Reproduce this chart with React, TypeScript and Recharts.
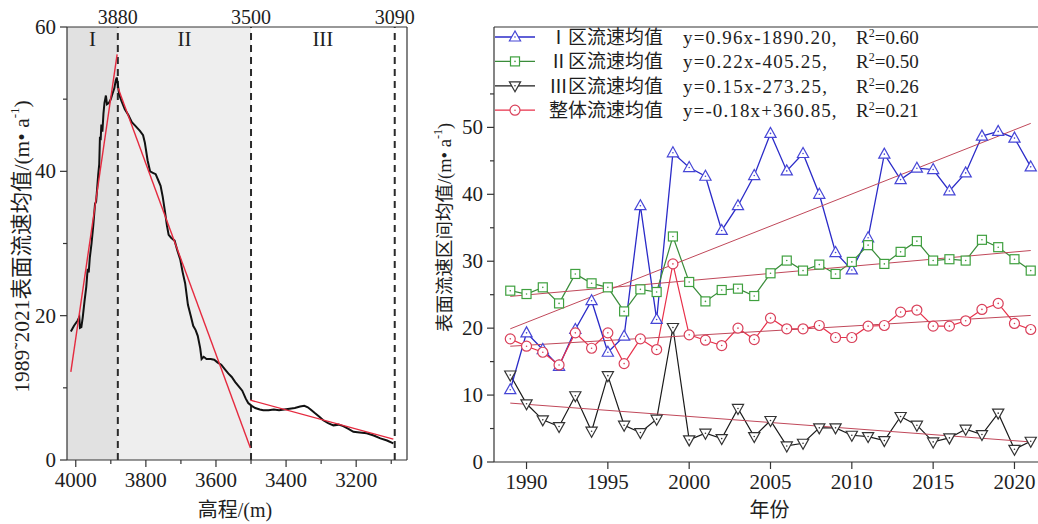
import React from 'react';
import {
  ComposedChart,
  Line,
  XAxis,
  YAxis,
  ReferenceArea,
  ReferenceLine,
  Legend,
} from 'recharts';

// ---------- left panel: velocity along the elevation profile ----------
const profileElevation = [
  4014, 4005, 3995, 3990, 3988, 3984, 3980, 3975, 3970, 3966, 3963, 3960, 3955, 3950, 3945, 3942,
  3940, 3936, 3933, 3931, 3929, 3927, 3924, 3921, 3918, 3914, 3911, 3905, 3900, 3895, 3890, 3886,
  3883, 3880, 3876, 3870, 3860, 3850, 3840, 3830, 3817, 3808, 3803, 3795, 3788, 3780, 3772, 3765,
  3758, 3752, 3746, 3740, 3735, 3728, 3718, 3710, 3702, 3695, 3688, 3680, 3672, 3665, 3658, 3652,
  3645, 3641, 3635, 3627, 3615, 3605, 3595, 3585, 3575, 3565, 3555, 3545, 3535, 3525, 3515, 3508,
  3498, 3488, 3475, 3465, 3450, 3435, 3420, 3405, 3390, 3375, 3360, 3348, 3338, 3330, 3318, 3305,
  3294, 3280, 3265, 3250, 3237, 3222, 3208, 3190, 3170, 3150, 3131, 3112, 3094,
];
const profileVelocity = [
  17.8, 18.6, 19.3, 19.8, 18.3, 18.4, 19.8, 22.0, 24.0, 26.5, 26.0, 28.0, 30.0, 32.5, 35.5, 35.8,
  37.0, 39.5, 41.0, 44.8, 44.3, 46.5, 45.5, 48.0, 49.5, 50.5, 49.3, 49.5, 50.0, 50.8, 51.5, 52.6,
  53.0, 52.0, 50.6, 49.8, 48.6, 47.8, 46.8, 46.3, 45.6, 45.0, 44.0, 41.5, 40.0, 39.8, 39.6, 38.8,
  38.0, 36.5, 34.6, 32.5, 31.2, 30.8, 30.4, 29.0, 27.8, 26.0, 24.5, 21.5, 20.0, 18.6, 18.0, 17.2,
  15.5, 14.0, 14.3, 14.0, 14.0, 13.9, 13.5, 13.2, 12.6, 12.0, 11.5, 10.8, 10.2, 9.6, 8.5, 7.9,
  7.5, 7.2, 7.0, 6.9, 6.9, 7.0, 6.9, 7.0, 7.1, 7.2, 7.4, 7.5, 7.3, 7.0, 6.5, 6.0,
  5.5, 5.1, 4.8, 4.9, 4.7, 4.3, 3.9, 3.8, 3.7, 3.4, 3.0, 2.7, 2.3,
];

// fitted segments per zone (endpoints)
const trendZoneIElev = [4014, 3882];
const trendZoneIVel = [12.2, 56.2];
const trendZoneIIElev = [3879, 3502];
const trendZoneIIVel = [51.5, 1.7];
const trendZoneIIIElev = [3502, 3094];
const trendZoneIIIVel = [8.3, 2.9];

const zoneBounds = [4025, 3880, 3500, 3090];
const zoneNames = ['I', 'II', 'III'];
const profileTopTicks = [3880, 3500, 3090];
const profileXTicks = [4000, 3900, 3800, 3700, 3600, 3500, 3400, 3300, 3200, 3100];
const profileXMajor = [4000, 3800, 3600, 3400, 3200];
const profileYTicks = [0, 10, 20, 30, 40, 50, 60];
const profileYMajor = [0, 20, 40, 60];

// ---------- right panel: yearly mean velocity per zone ----------
const years = [
  1989, 1990, 1991, 1992, 1993, 1994, 1995, 1996, 1997, 1998, 1999, 2000, 2001, 2002, 2003, 2004,
  2005, 2006, 2007, 2008, 2009, 2010, 2011, 2012, 2013, 2014, 2015, 2016, 2017, 2018, 2019, 2020, 2021,
];
const zoneIMean = [
  10.8, 19.3, 16.8, 14.3, 19.8, 24.1, 16.4, 18.8, 38.3, 21.3, 46.2, 44.0, 42.7, 34.6, 38.3, 42.8,
  49.1, 43.5, 46.1, 40.0, 31.3, 28.7, 33.5, 46.0, 42.2, 43.9, 43.7, 40.5, 43.2, 48.7, 49.4, 48.4, 44.1,
];
const zoneIIMean = [
  25.6, 25.1, 26.1, 23.7, 28.1, 26.7, 26.1, 22.5, 25.8, 25.4, 33.7, 26.9, 24.0, 25.7, 25.9, 24.8,
  28.2, 30.1, 28.6, 29.5, 28.1, 29.9, 32.4, 29.6, 31.4, 33.0, 30.1, 30.3, 30.1, 33.2, 32.1, 30.3, 28.6,
];
const zoneIIIMean = [
  13.0, 8.7, 6.3, 5.3, 9.9, 4.6, 12.9, 5.5, 4.4, 6.4, 20.1, 3.3, 4.3, 3.5, 8.0, 3.8,
  6.2, 2.4, 2.8, 5.1, 5.1, 4.0, 3.8, 3.2, 6.8, 5.5, 3.0, 3.6, 4.9, 4.1, 7.3, 1.9, 3.1,
];
const overallMean = [
  18.4, 17.3, 16.4, 14.5, 19.3, 17.0, 19.3, 14.7, 18.4, 16.8, 29.6, 19.0, 18.2, 17.4, 20.0, 18.3,
  21.5, 19.9, 19.9, 20.4, 18.6, 18.6, 20.3, 20.4, 22.4, 22.7, 20.3, 20.3, 21.1, 22.8, 23.7, 20.7, 19.8,
];

const trendYears = [1989, 2021];
const trendZoneI = [19.9, 50.6];
const trendZoneII = [24.75, 31.6];
const trendZoneIII = [8.8, 3.0];
const trendOverall = [17.3, 21.9];

const legendNames = ['Ⅰ区流速均值', 'Ⅱ区流速均值', 'Ⅲ区流速均值', '整体流速均值'];
const legendEquations = ['y=0.96x-1890.20,', 'y=0.22x-405.25,', 'y=0.15x-273.25,', 'y=-0.18x+360.85,'];
const legendR2 = ['0.60', '0.50', '0.26', '0.21'];

const yearXTicks = [1990, 1995, 2000, 2005, 2010, 2015, 2020];
const yearYTicks = [0, 5, 10, 15, 20, 25, 30, 35, 40, 45, 50, 55];
const yearYMajor = [0, 10, 20, 30, 40, 50];

// ---------- tables ----------
const profileRows = profileElevation.map((e, i) => ({ elev: e, v: profileVelocity[i] }));
const segRows = (el: number[], vel: number[]) => el.map((e, i) => ({ elev: e, v: vel[i] }));
const yearRows = years.map((y, i) => ({
  year: y,
  z1: zoneIMean[i],
  z2: zoneIIMean[i],
  z3: zoneIIIMean[i],
  all: overallMean[i],
}));
const trendRows = trendYears.map((y, i) => ({
  year: y,
  t1: trendZoneI[i],
  t2: trendZoneII[i],
  t3: trendZoneIII[i],
  tAll: trendOverall[i],
}));

// ---------- styles ----------
const SERIF = '"Liberation Serif", "Times New Roman", serif';
const CJK = '"Noto Sans CJK SC", sans-serif';
const MIXED = '"Liberation Serif", "Noto Sans CJK SC", serif';
const AXIS = '#333333';
const TEXT = '#1e1e1e';

const BLUE = '#2b2bc8';
const BLUE_M = '#4646d6';
const GREEN = '#3a8c3a';
const GREEN_M = '#3fa03f';
const BLACK = '#1a1a1a';
const BLACK_M = '#333333';
const RED = '#e8304a';
const RED_M = '#d9405a';
const TREND = '#c0485a';
const FIT = '#e52a3f';

type Shape = 'up' | 'down' | 'square' | 'circle';

const drawMarker = (shape: Shape, cx: number, cy: number, color: string, key?: React.Key) => {
  let body: React.ReactNode;
  if (shape === 'up') {
    body = (
      <polygon
        points={`${cx},${cy - 6} ${cx - 5.6},${cy + 4} ${cx + 5.6},${cy + 4}`}
        fill="#fff"
        stroke={color}
        strokeWidth={1.2}
      />
    );
  } else if (shape === 'down') {
    body = (
      <polygon
        points={`${cx},${cy + 6} ${cx - 5.6},${cy - 4} ${cx + 5.6},${cy - 4}`}
        fill="#fff"
        stroke={color}
        strokeWidth={1.2}
      />
    );
  } else if (shape === 'square') {
    body = <rect x={cx - 4.5} y={cy - 4.5} width={9} height={9} fill="#fff" stroke={color} strokeWidth={1.2} />;
  } else {
    body = <circle cx={cx} cy={cy} r={5} fill="#fff" stroke={color} strokeWidth={1.2} />;
  }
  return (
    <g key={key}>
      {body}
      <circle cx={cx} cy={cy} r={0.8} fill={color} />
    </g>
  );
};

const dotOf = (shape: Shape, color: string) => (props: any) => {
  const { cx, cy, index } = props;
  if (cx == null || cy == null) return <g key={`d-${index}`} />;
  return drawMarker(shape, cx, cy, color, `d-${index}`);
};

// tick renderers (axis tickSize is 0, so x/y sit on the axis line)
const makeLeftTick = (majors: number[], fontSize: number) => (props: any) => {
  const { x, y, payload } = props;
  const major = majors.includes(payload.value);
  const len = major ? 7 : 4;
  return (
    <g>
      <line x1={x} y1={y} x2={x - len} y2={y} stroke={AXIS} strokeWidth={1.2} />
      {major && (
        <text x={x - 11} y={y} dy={7} textAnchor="end" fontSize={fontSize} fontFamily={SERIF} fill={TEXT}>
          {payload.value}
        </text>
      )}
    </g>
  );
};

const makeBottomTick = (majors: number[] | null, fontSize: number) => (props: any) => {
  const { x, y, payload } = props;
  const major = majors ? majors.includes(payload.value) : true;
  const len = major ? 7 : 4;
  return (
    <g>
      <line x1={x} y1={y} x2={x} y2={y + len} stroke={AXIS} strokeWidth={1.2} />
      {major && (
        <text x={x} y={y + 27} textAnchor="middle" fontSize={fontSize} fontFamily={SERIF} fill={TEXT}>
          {payload.value}
        </text>
      )}
    </g>
  );
};

const TopTick = (props: any) => {
  const { x, y, payload } = props;
  return (
    <text x={x} y={y - 3} textAnchor="middle" fontSize={20} fontFamily={SERIF} fill={TEXT}>
      {payload.value}
    </text>
  );
};

const ProfileYTitle = (props: any) => {
  const vb = props.viewBox || { x: 17, y: 27, width: 50, height: 433 };
  const cx = vb.x + 5;
  const cy = vb.y + vb.height / 2 + 3;
  return (
    <text
      x={cx}
      y={cy}
      transform={`rotate(-90, ${cx}, ${cy})`}
      textAnchor="middle"
      dominantBaseline="central"
      fontSize={21.5}
      fontFamily={MIXED}
      fill={TEXT}
    >
      1989˜2021表面流速均值/(m• a
      <tspan dy={-8} fontSize={13}>-1</tspan>
      <tspan dy={8}>)</tspan>
    </text>
  );
};

const YearYTitle = (props: any) => {
  const vb = props.viewBox || { x: 14, y: 27, width: 60, height: 435 };
  const cx = vb.x + 11;
  const cy = vb.y + vb.height / 2 - 17;
  return (
    <text
      x={cx}
      y={cy}
      transform={`rotate(-90, ${cx}, ${cy})`}
      textAnchor="middle"
      dominantBaseline="central"
      fontSize={18.5}
      fontFamily={MIXED}
      fill={TEXT}
    >
      表面流速区间均值/(m• a
      <tspan dy={-7} fontSize={12}>-1</tspan>
      <tspan dy={7}>)</tspan>
    </text>
  );
};

const ProfileXTitle = (props: any) => {
  const vb = props.viewBox || { x: 67, y: 460, width: 340, height: 40 };
  return (
    <text x={vb.x + vb.width / 2 - 2} y={vb.y + 57} textAnchor="middle" fontSize={20} fontFamily={MIXED} fill={TEXT}>
      高程/(m)
    </text>
  );
};

const YearXTitle = (props: any) => {
  const vb = props.viewBox || { x: 74, y: 462, width: 553, height: 40 };
  return (
    <text x={vb.x + vb.width / 2 - 1} y={vb.y + 55} textAnchor="middle" fontSize={20} fontFamily={CJK} fill={TEXT}>
      年份
    </text>
  );
};

const legendShapes: Shape[] = ['up', 'square', 'down', 'circle'];
const legendLineColors = [BLUE, GREEN, BLACK, RED];
const legendMarkerColors = [BLUE_M, GREEN_M, BLACK_M, RED_M];

const LegendBox = () => (
  <svg width={540} height={100} style={{ display: 'block', overflow: 'visible' }}>
    {legendNames.map((name, i) => {
      const cy = 12 + i * 24.4;
      const eq = legendEquations[i];
      return (
        <g key={name}>
          <line x1={0} x2={40} y1={cy} y2={cy} stroke={legendLineColors[i]} strokeWidth={1.3} />
          {drawMarker(legendShapes[i], 20, cy, legendMarkerColors[i])}
          <text x={54} y={cy} dy={7} fontSize={19} fontFamily={CJK} fill={TEXT}>
            {name}
          </text>
          <text
            x={188}
            y={cy}
            dy={7}
            fontSize={19}
            fontFamily={SERIF}
            fill={TEXT}
            textLength={eq.length * 9.6}
            lengthAdjust="spacing"
          >
            {eq}
          </text>
          <text x={361} y={cy} dy={7} fontSize={19} fontFamily={SERIF} fill={TEXT}>
            R<tspan dy={-7} fontSize={12}>2</tspan>
            <tspan dy={7}>{`=${legendR2[i]}`}</tspan>
          </text>
        </g>
      );
    })}
  </svg>
);

const ProfileChart = () => (
  <ComposedChart
    width={420}
    height={524}
    data={profileRows}
    margin={{ top: 5, right: 13, bottom: 24, left: 17 }}
  >
    <XAxis
      xAxisId="b"
      dataKey="elev"
      type="number"
      domain={[3055, 4025]}
      reversed
      allowDataOverflow
      ticks={profileXTicks}
      interval={0}
      tickSize={0}
      tickMargin={0}
      tickLine={false}
      tick={makeBottomTick(profileXMajor, 21)}
      axisLine={{ stroke: AXIS, strokeWidth: 1.2 }}
      height={40}
      label={<ProfileXTitle />}
    />
    <XAxis
      xAxisId="t"
      orientation="top"
      dataKey="elev"
      type="number"
      domain={[3055, 4025]}
      reversed
      allowDataOverflow
      ticks={profileTopTicks}
      interval={0}
      tickSize={0}
      tickMargin={0}
      tickLine={false}
      tick={<TopTick />}
      axisLine={{ stroke: AXIS, strokeWidth: 1.2 }}
      height={22}
    />
    <YAxis
      type="number"
      domain={[0, 60]}
      allowDataOverflow
      ticks={profileYTicks}
      interval={0}
      tickSize={0}
      tickMargin={0}
      tickLine={false}
      tick={makeLeftTick(profileYMajor, 21)}
      axisLine={{ stroke: AXIS, strokeWidth: 1.2 }}
      width={50}
      label={<ProfileYTitle />}
    />
    <ReferenceArea xAxisId="b" x1={zoneBounds[0]} x2={zoneBounds[1]} fill="#e1e1e1" fillOpacity={1} stroke="none" ifOverflow="hidden"
      label={{ value: zoneNames[0], position: 'insideTop', offset: 4, fontSize: 21, fontFamily: SERIF, fill: TEXT }} />
    <ReferenceArea xAxisId="b" x1={zoneBounds[1]} x2={zoneBounds[2]} fill="#eeeeee" fillOpacity={1} stroke="none" ifOverflow="hidden"
      label={{ value: zoneNames[1], position: 'insideTop', offset: 4, fontSize: 21, fontFamily: SERIF, fill: TEXT }} />
    <ReferenceArea xAxisId="b" x1={zoneBounds[2]} x2={zoneBounds[3]} fill="#ffffff" fillOpacity={0} stroke="none" ifOverflow="hidden"
      label={{ value: zoneNames[2], position: 'insideTop', offset: 4, fontSize: 21, fontFamily: SERIF, fill: TEXT }} />
    {profileTopTicks.map((x) => (
      <ReferenceLine key={x} xAxisId="b" x={x} stroke="#2a2a2a" strokeWidth={2} strokeDasharray="7 5" />
    ))}
    <ReferenceLine xAxisId="b" x={3055} stroke={AXIS} strokeWidth={1.2} />
    <Line
      xAxisId="b"
      dataKey="v"
      type="linear"
      stroke="#111"
      strokeWidth={2}
      dot={false}
      isAnimationActive={false}
    />
    <Line xAxisId="b" data={segRows(trendZoneIElev, trendZoneIVel)} dataKey="v" stroke={FIT} strokeWidth={1.4} dot={false} isAnimationActive={false} />
    <Line xAxisId="b" data={segRows(trendZoneIIElev, trendZoneIIVel)} dataKey="v" stroke={FIT} strokeWidth={1.4} dot={false} isAnimationActive={false} />
    <Line xAxisId="b" data={segRows(trendZoneIIIElev, trendZoneIIIVel)} dataKey="v" stroke={FIT} strokeWidth={1.4} dot={false} isAnimationActive={false} />
  </ComposedChart>
);

const YearChart = () => (
  <ComposedChart
    width={627}
    height={524}
    data={yearRows}
    margin={{ top: 27, right: 0, bottom: 22, left: 14 }}
  >
    <XAxis
      dataKey="year"
      type="number"
      domain={[1988, 2022]}
      allowDataOverflow
      ticks={yearXTicks}
      interval={0}
      tickSize={0}
      tickMargin={0}
      tickLine={false}
      tick={makeBottomTick(null, 21)}
      axisLine={{ stroke: AXIS, strokeWidth: 1.2 }}
      height={40}
      label={<YearXTitle />}
    />
    <YAxis
      type="number"
      domain={[0, 65]}
      allowDataOverflow
      ticks={yearYTicks}
      interval={0}
      tickSize={0}
      tickMargin={0}
      tickLine={false}
      tick={makeLeftTick(yearYMajor, 21)}
      axisLine={{ stroke: AXIS, strokeWidth: 1.2 }}
      width={60}
      label={<YearYTitle />}
    />
    <ReferenceLine y={65} stroke={AXIS} strokeWidth={1.2} />
    <Legend
      layout="vertical"
      align="center"
      verticalAlign="middle"
      content={() => <LegendBox />}
      wrapperStyle={{ position: 'absolute', left: 75, top: 25, width: 540, height: 100 }}
    />
    <Line dataKey="z3" name="Ⅲ区流速均值" stroke={BLACK} strokeWidth={1.2} dot={dotOf('down', BLACK_M)} isAnimationActive={false} />
    <Line dataKey="z1" name="Ⅰ区流速均值" stroke={BLUE} strokeWidth={1.3} dot={dotOf('up', BLUE_M)} isAnimationActive={false} />
    <Line dataKey="z2" name="Ⅱ区流速均值" stroke={GREEN} strokeWidth={1.2} dot={dotOf('square', GREEN_M)} isAnimationActive={false} />
    <Line dataKey="all" name="整体流速均值" stroke={RED} strokeWidth={1.2} dot={dotOf('circle', RED_M)} isAnimationActive={false} />
    <Line data={trendRows} dataKey="t1" stroke={TREND} strokeWidth={1} dot={false} legendType="none" isAnimationActive={false} />
    <Line data={trendRows} dataKey="t2" stroke={TREND} strokeWidth={1} dot={false} legendType="none" isAnimationActive={false} />
    <Line data={trendRows} dataKey="t3" stroke={TREND} strokeWidth={1} dot={false} legendType="none" isAnimationActive={false} />
    <Line data={trendRows} dataKey="tAll" stroke={TREND} strokeWidth={1} dot={false} legendType="none" isAnimationActive={false} />
  </ComposedChart>
);

export default function App() {
  return (
    <div
      style={{
        position: 'absolute',
        left: 0,
        top: 0,
        width: 1038,
        height: 524,
        overflow: 'hidden',
        background: '#ffffff',
      }}
    >
      <div style={{ position: 'absolute', left: 0, top: 0 }}>
        <ProfileChart />
      </div>
      <div style={{ position: 'absolute', left: 420, top: 0 }}>
        <YearChart />
      </div>
    </div>
  );
}
